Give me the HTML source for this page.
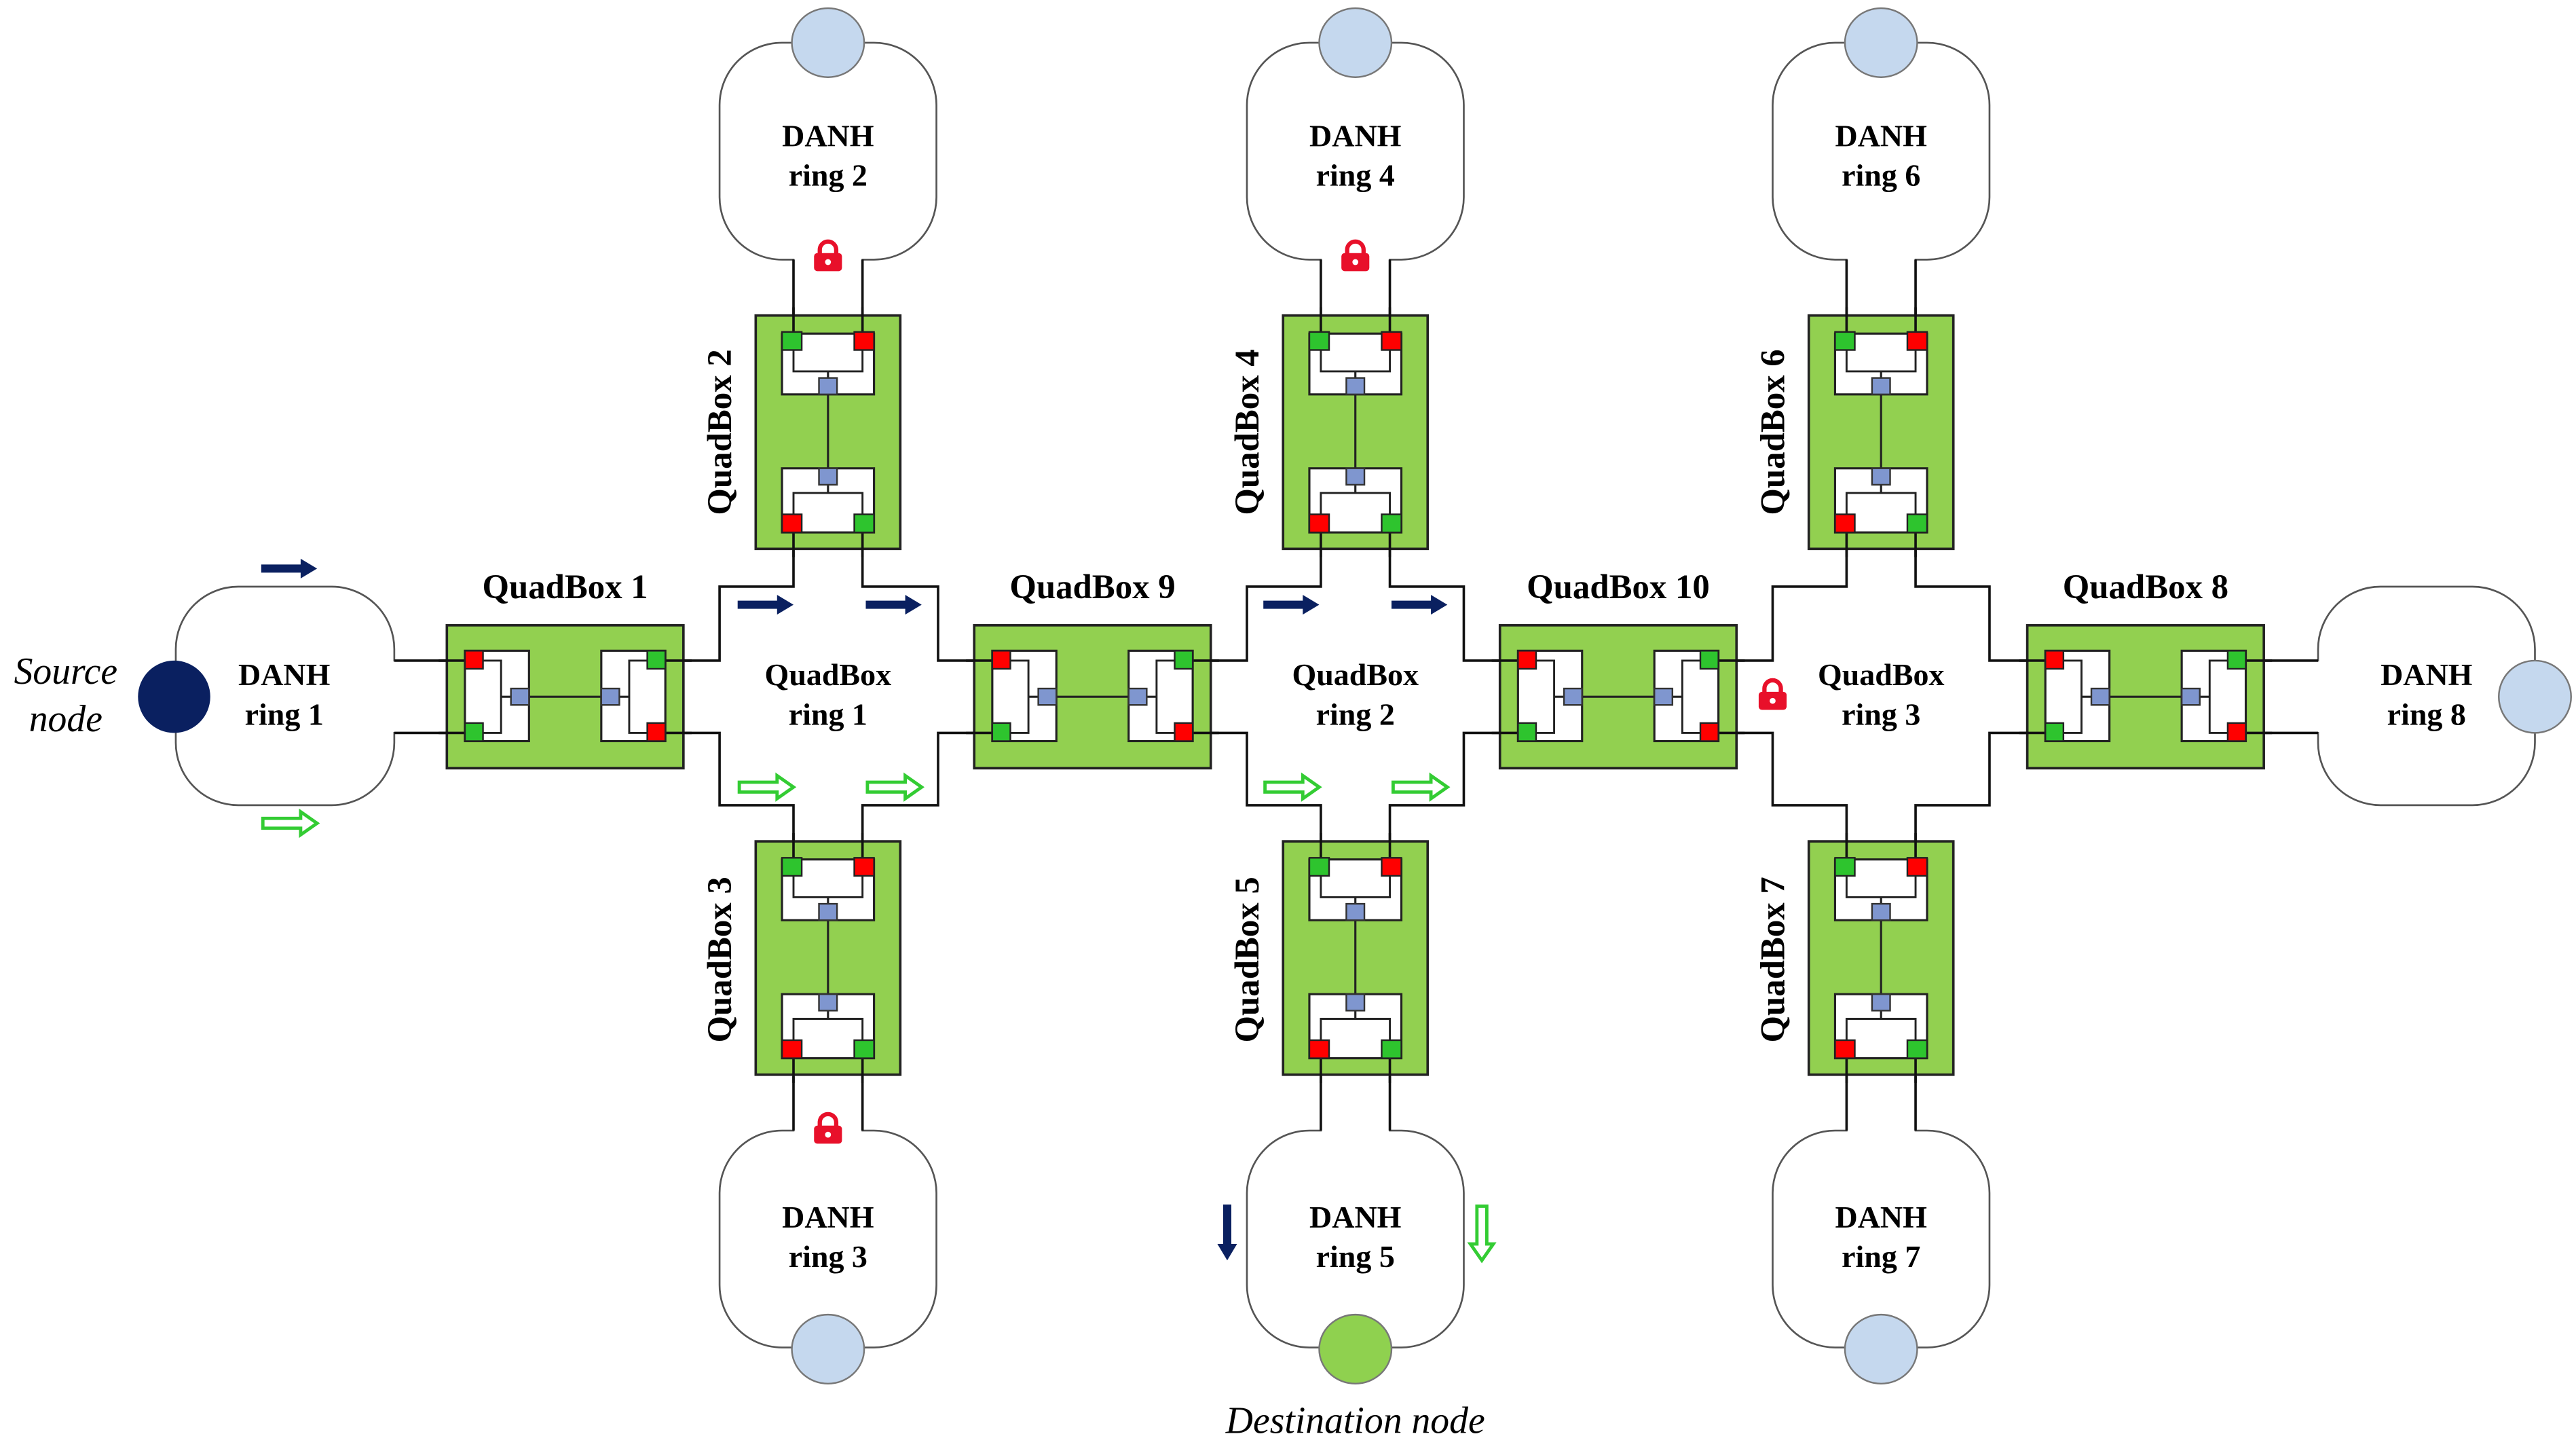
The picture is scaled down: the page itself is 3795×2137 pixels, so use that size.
<!DOCTYPE html>
<html><head><meta charset="utf-8"><style>
html,body{margin:0;padding:0;background:#fff;}
svg{display:block;}
text{font-family:"Liberation Serif",serif;font-weight:bold;font-size:19px;fill:#000;}
.qb{font-size:21px;}
</style></head><body>
<svg width="3795" height="2137" viewBox="0 0 1568 883" preserveAspectRatio="none" xmlns="http://www.w3.org/2000/svg">
<defs>
 <g id="vq">
  <rect x="-44" y="0" width="88" height="142" fill="#92d050" stroke="#222" stroke-width="1.5"/>
  <line x1="-21" y1="-5" x2="-21" y2="16" stroke="#111" stroke-width="1.5"/>
  <line x1="21" y1="-5" x2="21" y2="16" stroke="#111" stroke-width="1.5"/>
  <line x1="-21" y1="126" x2="-21" y2="147" stroke="#111" stroke-width="1.5"/>
  <line x1="21" y1="126" x2="21" y2="147" stroke="#111" stroke-width="1.5"/>
  <rect x="-28" y="11" width="56" height="37" fill="#fff" stroke="#222" stroke-width="1.3"/>
  <polyline points="-21,16 -21,34 21,34 21,16" fill="none" stroke="#222" stroke-width="1.2"/>
  <rect x="-28" y="93" width="56" height="39" fill="#fff" stroke="#222" stroke-width="1.3"/>
  <polyline points="-21,126 -21,108 21,108 21,126" fill="none" stroke="#222" stroke-width="1.2"/>
  <line x1="0" y1="34" x2="0" y2="108" stroke="#222" stroke-width="1.3"/>
  <rect x="-5.5" y="38" width="11" height="10" fill="#7f96cf" stroke="#333" stroke-width="1"/>
  <rect x="-5.5" y="93" width="11" height="10" fill="#7f96cf" stroke="#333" stroke-width="1"/>
  <rect x="-28" y="10" width="12" height="11" fill="#2ec42e" stroke="#222" stroke-width="1"/>
  <rect x="16" y="10" width="12" height="11" fill="#f00" stroke="#222" stroke-width="1"/>
  <rect x="-28" y="121" width="12" height="11" fill="#f00" stroke="#222" stroke-width="1"/>
  <rect x="16" y="121" width="12" height="11" fill="#2ec42e" stroke="#222" stroke-width="1"/>
 </g>
 <g id="hq">
  <rect x="0" y="-43.5" width="144" height="87" fill="#92d050" stroke="#222" stroke-width="1.5"/>
  <line x1="-5" y1="-22" x2="16" y2="-22" stroke="#111" stroke-width="1.5"/>
  <line x1="-5" y1="22" x2="16" y2="22" stroke="#111" stroke-width="1.5"/>
  <line x1="128" y1="-22" x2="149" y2="-22" stroke="#111" stroke-width="1.5"/>
  <line x1="128" y1="22" x2="149" y2="22" stroke="#111" stroke-width="1.5"/>
  <rect x="11" y="-28" width="39" height="55" fill="#fff" stroke="#222" stroke-width="1.3"/>
  <rect x="94" y="-28" width="39" height="55" fill="#fff" stroke="#222" stroke-width="1.3"/>
  <polyline points="16,-22 33,-22 33,22 16,22" fill="none" stroke="#222" stroke-width="1.2"/>
  <polyline points="128,-22 111,-22 111,22 128,22" fill="none" stroke="#222" stroke-width="1.2"/>
  <line x1="33" y1="0" x2="111" y2="0" stroke="#222" stroke-width="1.3"/>
  <rect x="39" y="-5" width="11" height="10" fill="#7f96cf" stroke="#333" stroke-width="1"/>
  <rect x="94" y="-5" width="11" height="10" fill="#7f96cf" stroke="#333" stroke-width="1"/>
  <rect x="11" y="-28" width="11" height="11" fill="#f00" stroke="#222" stroke-width="1"/>
  <rect x="11" y="16" width="11" height="11" fill="#2ec42e" stroke="#222" stroke-width="1"/>
  <rect x="122" y="-28" width="11" height="11" fill="#2ec42e" stroke="#222" stroke-width="1"/>
  <rect x="122" y="16" width="11" height="11" fill="#f00" stroke="#222" stroke-width="1"/>
 </g>
 <path id="na" d="M0 -2.5 H24 V-6 L34 0 L24 6 V2.5 H0 Z" fill="#0a2060"/>
 <path id="ga" d="M1 -3 H24 V-7 L34 0 L24 7 V3 H1 Z" fill="#fff" stroke="#33cc33" stroke-width="2"/>
 <g id="lock">
  <path d="M-5 0 V-4 A5 5 0 0 1 5 -4 V0" fill="none" stroke="#e8102a" stroke-width="2.6"/>
  <rect x="-8.5" y="-2" width="17" height="11" rx="2" fill="#e8102a"/>
  <circle cx="0" cy="3.5" r="1.8" fill="#fff"/>
 </g>
</defs>

<g fill="none" stroke="#555" stroke-width="1.1">
 <path d="M272 402 H240 V395 A38 38 0 0 0 202 357 H145 A38 38 0 0 0 107 395 V452 A38 38 0 0 0 145 490 H202 A38 38 0 0 0 240 452 V446 H272"/>
 <path d="M1378 402 H1411 V395 A38 38 0 0 1 1449 357 H1505 A38 38 0 0 1 1543 395 V452 A38 38 0 0 1 1505 490 H1449 A38 38 0 0 1 1411 452 V446 H1378"/>
 <path d="M483 192 V158 H476 A38 38 0 0 1 438 120 V64 A38 38 0 0 1 476 26 H532 A38 38 0 0 1 570 64 V120 A38 38 0 0 1 532 158 H525 V192"/>
 <path d="M804 192 V158 H797 A38 38 0 0 1 759 120 V64 A38 38 0 0 1 797 26 H853 A38 38 0 0 1 891 64 V120 A38 38 0 0 1 853 158 H846 V192"/>
 <path d="M1124 192 V158 H1117 A38 38 0 0 1 1079 120 V64 A38 38 0 0 1 1117 26 H1173 A38 38 0 0 1 1211 64 V120 A38 38 0 0 1 1173 158 H1166 V192"/>
 <path d="M483 655 V688 H476 A38 38 0 0 0 438 726 V782 A38 38 0 0 0 476 820 H532 A38 38 0 0 0 570 782 V726 A38 38 0 0 0 532 688 H525 V655"/>
 <path d="M804 655 V688 H797 A38 38 0 0 0 759 726 V782 A38 38 0 0 0 797 820 H853 A38 38 0 0 0 891 782 V726 A38 38 0 0 0 853 688 H846 V655"/>
 <path d="M1124 655 V688 H1117 A38 38 0 0 0 1079 726 V782 A38 38 0 0 0 1117 820 H1173 A38 38 0 0 0 1211 782 V726 A38 38 0 0 0 1173 688 H1166 V655"/>
</g>
<g stroke="#111" stroke-width="1.5">
 <line x1="483" y1="158" x2="483" y2="192"/><line x1="525" y1="158" x2="525" y2="192"/>
 <line x1="804" y1="158" x2="804" y2="192"/><line x1="846" y1="158" x2="846" y2="192"/>
 <line x1="1124" y1="158" x2="1124" y2="192"/><line x1="1166" y1="158" x2="1166" y2="192"/>
 <line x1="483" y1="655" x2="483" y2="688"/><line x1="525" y1="655" x2="525" y2="688"/>
 <line x1="804" y1="655" x2="804" y2="688"/><line x1="846" y1="655" x2="846" y2="688"/>
 <line x1="1124" y1="655" x2="1124" y2="688"/><line x1="1166" y1="655" x2="1166" y2="688"/>
 <line x1="240" y1="402" x2="272" y2="402"/><line x1="240" y1="446" x2="272" y2="446"/>
 <line x1="1378" y1="402" x2="1411" y2="402"/><line x1="1378" y1="446" x2="1411" y2="446"/>
</g>

<g fill="none" stroke="#111" stroke-width="1.5">
 <path d="M416 402 H438 V357 H483 V334"/><path d="M525 334 V357 H571 V402 H593"/>
 <path d="M416 446 H438 V490 H483 V512"/><path d="M525 512 V490 H571 V446 H593"/>
 <path d="M737 402 H759 V357 H804 V334"/><path d="M846 334 V357 H891 V402 H913"/>
 <path d="M737 446 H759 V490 H804 V512"/><path d="M846 512 V490 H891 V446 H913"/>
 <path d="M1057 402 H1079 V357 H1124 V334"/><path d="M1166 334 V357 H1211 V402 H1234"/>
 <path d="M1057 446 H1079 V490 H1124 V512"/><path d="M1166 512 V490 H1211 V446 H1234"/>
</g>

<use href="#hq" x="272" y="424"/>
<use href="#hq" x="593" y="424"/>
<use href="#hq" x="913" y="424"/>
<use href="#hq" x="1234" y="424"/>
<use href="#vq" x="504" y="192"/>
<use href="#vq" x="825" y="192"/>
<use href="#vq" x="1145" y="192"/>
<use href="#vq" x="504" y="512"/>
<use href="#vq" x="825" y="512"/>
<use href="#vq" x="1145" y="512"/>

<ellipse cx="106" cy="424" rx="22" ry="22" fill="#0a2060"/>
<ellipse cx="1543" cy="424" rx="22" ry="22" fill="#c5d8ee" stroke="#777" stroke-width="1"/>
<ellipse cx="504" cy="26" rx="22" ry="21" fill="#c5d8ee" stroke="#777" stroke-width="1"/>
<ellipse cx="825" cy="26" rx="22" ry="21" fill="#c5d8ee" stroke="#777" stroke-width="1"/>
<ellipse cx="1145" cy="26" rx="22" ry="21" fill="#c5d8ee" stroke="#777" stroke-width="1"/>
<ellipse cx="504" cy="821" rx="22" ry="21" fill="#c5d8ee" stroke="#777" stroke-width="1"/>
<ellipse cx="825" cy="821" rx="22" ry="21" fill="#8fd14f" stroke="#777" stroke-width="1"/>
<ellipse cx="1145" cy="821" rx="22" ry="21" fill="#c5d8ee" stroke="#777" stroke-width="1"/>

<use href="#na" x="159" y="346"/>
<use href="#ga" x="159" y="501"/>
<use href="#na" x="449" y="368"/><use href="#na" x="527" y="368"/>
<use href="#ga" x="449" y="479"/><use href="#ga" x="527" y="479"/>
<use href="#na" x="769" y="368"/><use href="#na" x="847" y="368"/>
<use href="#ga" x="769" y="479"/><use href="#ga" x="847" y="479"/>
<use href="#na" transform="translate(747 733) rotate(90)"/>
<use href="#ga" transform="translate(902 733) rotate(90)"/>

<use href="#lock" x="504" y="156"/>
<use href="#lock" x="825" y="156"/>
<use href="#lock" x="504" y="687"/>
<use href="#lock" x="1079" y="423"/>

<g text-anchor="middle">
 <text class="qb" x="344" y="364">QuadBox 1</text>
 <text class="qb" x="665" y="364">QuadBox 9</text>
 <text class="qb" x="985" y="364">QuadBox 10</text>
 <text class="qb" x="1306" y="364">QuadBox 8</text>
 <text x="173" y="417">DANH</text><text x="173" y="441">ring 1</text>
 <text x="1477" y="417">DANH</text><text x="1477" y="441">ring 8</text>
 <text x="504" y="417">QuadBox</text><text x="504" y="441">ring 1</text>
 <text x="825" y="417">QuadBox</text><text x="825" y="441">ring 2</text>
 <text x="1145" y="417">QuadBox</text><text x="1145" y="441">ring 3</text>
 <text x="504" y="89">DANH</text><text x="504" y="113">ring 2</text>
 <text x="825" y="89">DANH</text><text x="825" y="113">ring 4</text>
 <text x="1145" y="89">DANH</text><text x="1145" y="113">ring 6</text>
 <text x="504" y="747">DANH</text><text x="504" y="771">ring 3</text>
 <text x="825" y="747">DANH</text><text x="825" y="771">ring 5</text>
 <text x="1145" y="747">DANH</text><text x="1145" y="771">ring 7</text>
 <text class="qb" transform="translate(445 263) rotate(-90)">QuadBox 2</text>
 <text class="qb" transform="translate(766 263) rotate(-90)">QuadBox 4</text>
 <text class="qb" transform="translate(1086 263) rotate(-90)">QuadBox 6</text>
 <text class="qb" transform="translate(445 584) rotate(-90)">QuadBox 3</text>
 <text class="qb" transform="translate(766 584) rotate(-90)">QuadBox 5</text>
 <text class="qb" transform="translate(1086 584) rotate(-90)">QuadBox 7</text>
 <text x="40" y="416" style="font-weight:normal;font-style:italic;font-size:23px">Source</text>
 <text x="40" y="445" style="font-weight:normal;font-style:italic;font-size:23px">node</text>
 <text x="825" y="872" style="font-weight:normal;font-style:italic;font-size:23px">Destination node</text>
</g>
</svg>
</body></html>
